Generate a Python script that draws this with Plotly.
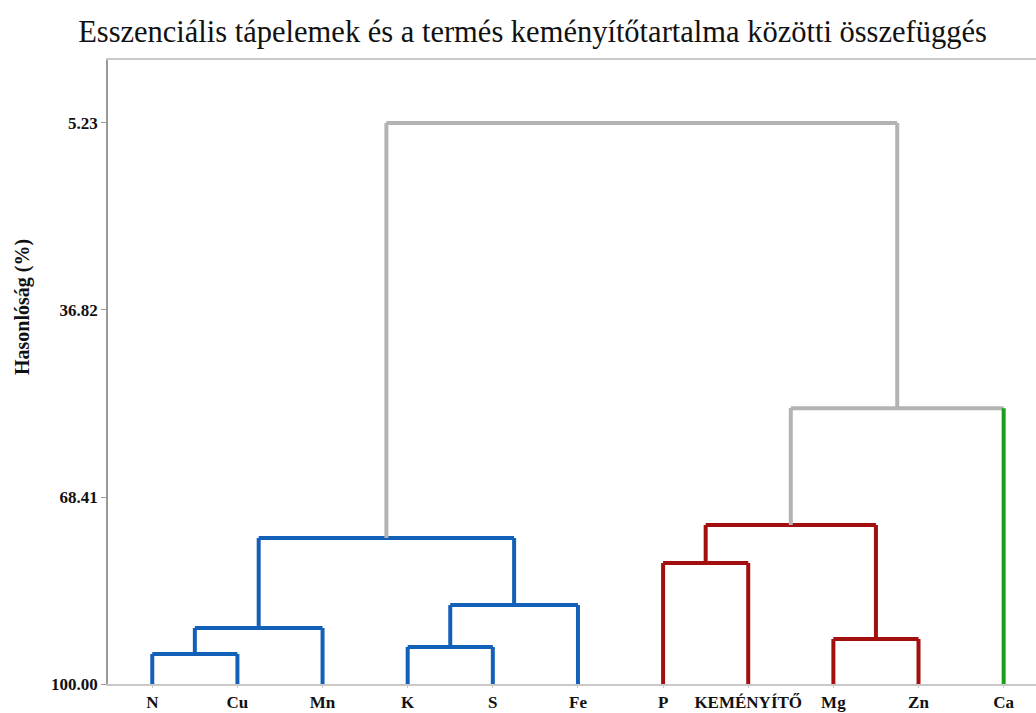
import plotly.graph_objects as go

# ---- data ----
labels = ["N", "Cu", "Mn", "K", "S", "Fe", "P", "KEMÉNYÍTŐ", "Mg", "Zn", "Ca"]
leaf_colors = ["#1360b8"] * 6 + ["#a30f0f"] * 4 + ["#1c9e1c"]
# merges (ids 11.. assigned in list order):
# 11: N-Cu, 12: K-S, 13: (N,Cu)-Mn, 14: (K,S)-Fe, 15: left cluster,
# 16: P-KEM, 17: Mg-Zn, 18: red cluster, 19: red-Ca, 20: top
merge_a = [0, 3, 11, 12, 13, 6, 8, 16, 18, 15]
merge_b = [1, 4, 2, 5, 14, 7, 9, 17, 10, 19]
merge_h = [94.93, 93.75, 90.54, 86.66, 75.34, 79.56, 92.40, 73.14, 53.40, 5.23]
merge_c = ["#1360b8", "#1360b8", "#1360b8", "#1360b8", "#1360b8",
           "#a30f0f", "#a30f0f", "#a30f0f", "#b3b3b3", "#b3b3b3"]
tick_vals = [5.23, 36.82, 68.41, 100.00]

n = len(labels)
xpos = {i: float(i) for i in range(n)}
hpos = {i: 100.0 for i in range(n)}

segs = {}
def add(color, xs, ys):
    d = segs.setdefault(color, ([], []))
    d[0].extend(xs + [None])
    d[1].extend(ys + [None])

for k, (a, b, h, c) in enumerate(zip(merge_a, merge_b, merge_h, merge_c)):
    nid = n + k
    for ch in (a, b):
        col = leaf_colors[ch] if ch < n else c
        add(col, [xpos[ch], xpos[ch]], [hpos[ch], h])
    add(c, [xpos[a], xpos[b]], [h, h])
    xpos[nid] = (xpos[a] + xpos[b]) / 2
    hpos[nid] = h

fig = go.Figure()
for col, (xs, ys) in segs.items():
    fig.add_trace(go.Scatter(x=xs, y=ys, mode="lines",
                             line=dict(color=col, width=4),
                             hoverinfo="skip", showlegend=False))

serif = "Liberation Serif"
fig.update_layout(
    width=1036, height=713,
    margin=dict(l=108, r=0, t=60, b=29),
    paper_bgcolor="white", plot_bgcolor="white",
    title=dict(text="Esszenciális tápelemek és a termés keményítőtartalma közötti összefüggés",
               x=0.514, xanchor="center", y=0.956, yanchor="middle",
               font=dict(family=serif, size=30.5, color="#111")),
    xaxis=dict(range=[-0.52, 10.38], tickmode="array", automargin=False,
               tickvals=list(range(n)), ticktext=["<b>%s</b>" % s for s in labels],
               showgrid=False, zeroline=False,
               showline=True, linecolor="#c8c8c8", linewidth=1.5, mirror=True,
               ticks="outside", ticklen=2, tickcolor="#c8c8c8",
               tickfont=dict(family=serif, size=17, color="#111"), fixedrange=True),
    yaxis=dict(range=[100, -5.41], tickmode="array", tickvals=tick_vals, automargin=False,
               ticktext=["<b>%.2f</b>" % v for v in tick_vals],
               showgrid=False, zeroline=False,
               showline=True, linecolor="#999999", linewidth=1.5,
               ticks="outside", ticklen=5, tickcolor="#999999",
               tickfont=dict(family=serif, size=17, color="#111")),
    annotations=[dict(text="<b>Hasonlóság (%)</b>", textangle=-90,
                      xref="paper", yref="paper", x=-0.0927, y=0.604,
                      xanchor="center", yanchor="middle", showarrow=False,
                      font=dict(family=serif, size=20, color="#111"))],
)
fig.write_html("out.html")
